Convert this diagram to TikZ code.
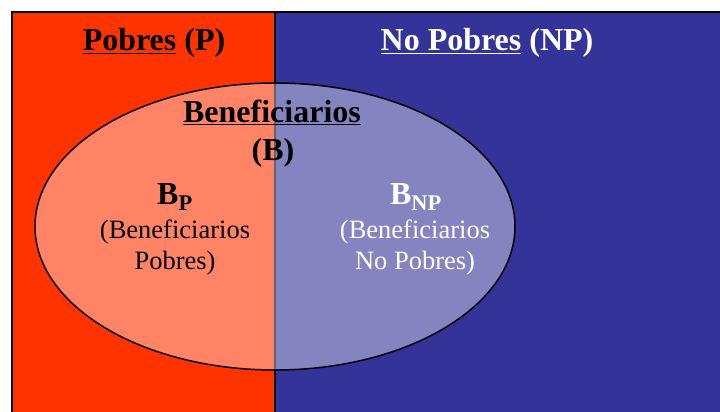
\documentclass[tikz,border=0pt]{standalone}
\usepackage{fontspec}
\setmainfont{Liberation Serif}
\definecolor{pobre}{HTML}{FF3300}
\definecolor{nopobre}{HTML}{333399}
\tikzset{
  titulo/.style={anchor=base, font=\fontsize{32}{36}\selectfont\bfseries},
  sub/.style={anchor=north, font=\fontsize{26.5}{31}\selectfont, align=center}
}
\begin{document}
\begin{tikzpicture}[x=1pt, y=-1pt]
    \useasboundingbox (0,0) rectangle (720,412);
    \clip (0,0) rectangle (720,412);
    \fill[pobre] (12,12) rectangle (275,420);
    \fill[nopobre] (275,12) rectangle (730,420);
    \draw[line width=1.8pt] (12,420) -- (12,12) -- (730,12) (275,12) -- (275,420);
    \fill[white, opacity=0.4] (275,226.5) ellipse [x radius=240, y radius=143.5];
    \draw[line width=1.5pt] (275,226.5) ellipse [x radius=240, y radius=143.5];
    \node [titulo] (pobres) at (154,51) {\underline{Pobres} (P)};
    \node [titulo, white] (nopobres) at (487,51) {\underline{No Pobres} (NP)};
    \node [titulo] (benef) at (272,122) {\underline{Beneficiarios}};
    \node [titulo] (b) at (273,160) {(B)};
    \node [titulo] (bp) at (175,204) {B\textsubscript{P}};
    \node [titulo, white] (bnp) at (416,204) {B\textsubscript{NP}};
    \node [sub] (bptext) at (175,216) {(Beneficiarios\\Pobres)};
    \node [sub, white] (bnptext) at (415,216) {(Beneficiarios\\No Pobres)};
\end{tikzpicture}
\end{document}
